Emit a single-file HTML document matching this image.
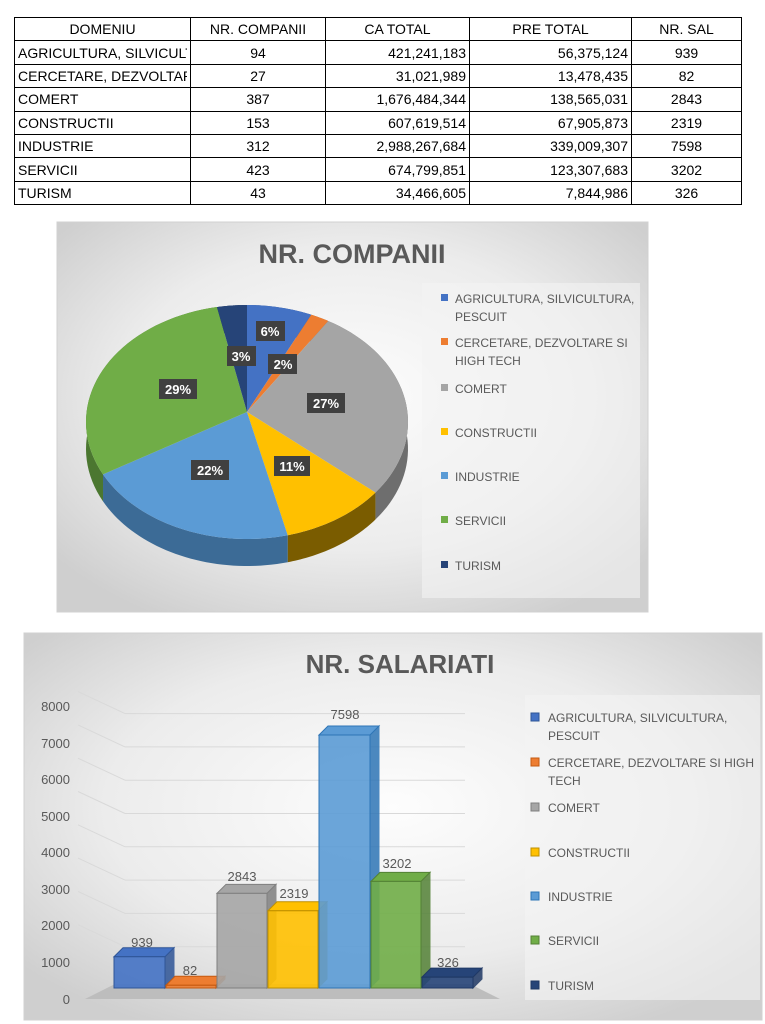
<!DOCTYPE html>
<html><head><meta charset="utf-8">
<style>
body{margin:0;width:765px;height:1024px;background:#fff;position:relative;overflow:hidden;font-family:"Liberation Sans",sans-serif}
table{position:absolute;left:14px;top:17px;border-collapse:collapse;font-size:14px;font-family:"Liberation Sans",sans-serif;color:#000}
td{border:1.5px solid #000;height:22.4px;padding:0 3px;white-space:nowrap;overflow:hidden}
.c{text-align:center}.r{text-align:right}
</style></head><body>
<table>
<colgroup><col style="width:175px"><col style="width:135px"><col style="width:144px"><col style="width:162px"><col style="width:110px"></colgroup>
<tr><td class="c">DOMENIU</td><td class="c">NR. COMPANII</td><td class="c">CA TOTAL</td><td class="c">PRE TOTAL</td><td class="c">NR. SAL</td></tr>
<tr><td><div style="width:169px;overflow:hidden">AGRICULTURA, SILVICULTURA</div></td><td class="c">94</td><td class="r">421,241,183</td><td class="r">56,375,124</td><td class="c">939</td></tr>
<tr><td><div style="width:169px;overflow:hidden">CERCETARE, DEZVOLTARE</div></td><td class="c">27</td><td class="r">31,021,989</td><td class="r">13,478,435</td><td class="c">82</td></tr>
<tr><td>COMERT</td><td class="c">387</td><td class="r">1,676,484,344</td><td class="r">138,565,031</td><td class="c">2843</td></tr>
<tr><td>CONSTRUCTII</td><td class="c">153</td><td class="r">607,619,514</td><td class="r">67,905,873</td><td class="c">2319</td></tr>
<tr><td>INDUSTRIE</td><td class="c">312</td><td class="r">2,988,267,684</td><td class="r">339,009,307</td><td class="c">7598</td></tr>
<tr><td>SERVICII</td><td class="c">423</td><td class="r">674,799,851</td><td class="r">123,307,683</td><td class="c">3202</td></tr>
<tr><td>TURISM</td><td class="c">43</td><td class="r">34,466,605</td><td class="r">7,844,986</td><td class="c">326</td></tr>
</table>

<svg width="765" height="1024" style="position:absolute;left:0;top:0" font-family="Liberation Sans, sans-serif">
<defs>
<radialGradient id="bg" cx="50%" cy="45%" r="65%"><stop offset="0" stop-color="#fdfdfd"/><stop offset="0.6" stop-color="#ececec"/><stop offset="1" stop-color="#cfcfcf"/></radialGradient>
</defs>
<rect x="57" y="222" width="591" height="390" fill="url(#bg)" stroke="#d0d0d0"/>
<text x="352" y="263" text-anchor="middle" font-size="27" font-weight="bold" fill="#595959">NR. COMPANII</text>
<rect x="422" y="283" width="218" height="315" fill="#f4f4f4" opacity="0.6"/>
<g id="pie"></g>
<g font-size="12" fill="#595959">
<rect x="441" y="294" width="7" height="7" fill="#4472C4"/><text x="455" y="303">AGRICULTURA, SILVICULTURA,</text><text x="455" y="321">PESCUIT</text>
<rect x="441" y="338" width="7" height="7" fill="#ED7D31"/><text x="455" y="347">CERCETARE, DEZVOLTARE SI</text><text x="455" y="365">HIGH TECH</text>
<rect x="441" y="384" width="7" height="7" fill="#A5A5A5"/><text x="455" y="393">COMERT</text>
<rect x="441" y="428" width="7" height="7" fill="#FFC000"/><text x="455" y="437">CONSTRUCTII</text>
<rect x="441" y="472" width="7" height="7" fill="#5B9BD5"/><text x="455" y="481">INDUSTRIE</text>
<rect x="441" y="516" width="7" height="7" fill="#70AD47"/><text x="455" y="525">SERVICII</text>
<rect x="441" y="561" width="7" height="7" fill="#264478"/><text x="455" y="570">TURISM</text>
</g>
<g font-size="13" font-weight="bold" fill="#fff" text-anchor="middle">
<rect x="256" y="321" width="29" height="20" fill="#404040"/><text x="270" y="336">6%</text>
<rect x="268" y="354" width="29" height="20" fill="#404040"/><text x="283" y="369">2%</text>
<rect x="307" y="393" width="38" height="20" fill="#404040"/><text x="326" y="408">27%</text>
<rect x="274" y="456" width="36" height="20" fill="#404040"/><text x="292" y="471">11%</text>
<rect x="191" y="460" width="38" height="20" fill="#404040"/><text x="210" y="475">22%</text>
<rect x="159" y="379" width="38" height="20" fill="#404040"/><text x="178" y="394">29%</text>
<rect x="227" y="346" width="29" height="20" fill="#404040"/><text x="241" y="361">3%</text>
</g>

<rect x="24" y="633" width="738" height="387" fill="url(#bg)" stroke="#d0d0d0"/>
<text x="400" y="673" text-anchor="middle" font-size="26" font-weight="bold" fill="#595959">NR. SALARIATI</text>
<g font-size="13" fill="#595959" text-anchor="end">
<text x="70" y="711">8000</text><text x="70" y="748">7000</text><text x="70" y="784">6000</text><text x="70" y="821">5000</text><text x="70" y="857">4000</text><text x="70" y="894">3000</text><text x="70" y="930">2000</text><text x="70" y="967">1000</text><text x="70" y="1004">0</text>
</g>
<g stroke="#d9d9d9" stroke-width="1" fill="none" id="grid"></g>
<polygon points="85,999 500,999 470,984 115,984" fill="#bdbdbd"/>
<g id="bars"></g>
<g font-size="13" fill="#595959" text-anchor="middle">
<text x="142" y="947">939</text><text x="190" y="975">82</text><text x="242" y="881">2843</text><text x="294" y="898">2319</text><text x="345" y="719">7598</text><text x="397" y="868">3202</text><text x="448" y="967">326</text>
</g>
<rect x="525" y="695" width="235" height="305" fill="#f4f4f4" opacity="0.6"/>
<g font-size="12" fill="#595959">
<rect x="531" y="713" width="8" height="8" fill="#4472C4" stroke="#2f5597"/><text x="548" y="722">AGRICULTURA, SILVICULTURA,</text><text x="548" y="740">PESCUIT</text>
<rect x="531" y="758" width="8" height="8" fill="#ED7D31" stroke="#c55a11"/><text x="548" y="767">CERCETARE, DEZVOLTARE SI HIGH</text><text x="548" y="785">TECH</text>
<rect x="531" y="803" width="8" height="8" fill="#A5A5A5" stroke="#7f7f7f"/><text x="548" y="812">COMERT</text>
<rect x="531" y="848" width="8" height="8" fill="#FFC000" stroke="#bf9000"/><text x="548" y="857">CONSTRUCTII</text>
<rect x="531" y="892" width="8" height="8" fill="#5B9BD5" stroke="#2e75b6"/><text x="548" y="901">INDUSTRIE</text>
<rect x="531" y="936" width="8" height="8" fill="#70AD47" stroke="#538135"/><text x="548" y="945">SERVICII</text>
<rect x="531" y="981" width="8" height="8" fill="#264478" stroke="#1f3864"/><text x="548" y="990">TURISM</text>
</g>
</svg>
<script>
(function(){
var NS="http://www.w3.org/2000/svg";
function el(p,t,a){var e=document.createElementNS(NS,t);for(var k in a)e.setAttribute(k,a[k]);p.appendChild(e);return e;}
var vals=[94,27,387,153,312,423,43],tot=1439;
var cols=["#4472C4","#ED7D31","#A5A5A5","#FFC000","#5B9BD5","#70AD47","#264478"];
var dark=["#2c4c85","#a4561f","#6e6e6e","#7a5c00","#3c6b96","#4b7730","#192d52"];
var cx=247,cy=422,rx=161,ry=117,ax=247,ay=412,D=27;
var g=document.getElementById("pie");
function pt(t){return [cx+rx*Math.sin(t),cy-ry*Math.cos(t)];}
var a=0,arcs=[];
for(var i=0;i<7;i++){var b=a+vals[i]/tot*2*Math.PI;arcs.push([a,b]);a=b;}
for(var i=0;i<7;i++){var s=arcs[i][0],e=arcs[i][1],pts=[],back=[];
 for(var k=0;k<=40;k++){var t=s+(e-s)*k/40,p=pt(t);pts.push(p[0]+","+p[1]);back.push(p[0]+","+(p[1]+D));}
 el(g,"polygon",{points:pts.concat(back.reverse()).join(" "),fill:dark[i]});}
for(var i=0;i<7;i++){var s=arcs[i][0],e=arcs[i][1],pts=[ax+","+ay];
 for(var k=0;k<=40;k++){var p=pt(s+(e-s)*k/40);pts.push(p[0]+","+p[1]);}
 el(g,"polygon",{points:pts.join(" "),fill:cols[i]});}
var gr=document.getElementById("grid");
for(var v=1;v<=8;v++){var y=988-v*33.3-8;el(gr,"line",{x1:125,y1:y,x2:465,y2:y});el(gr,"line",{x1:78,y1:y-22,x2:125,y2:y});}
var sal=[939,82,2843,2319,7598,3202,326];
var bc=["#4472C4","#ED7D31","#A5A5A5","#FFC000","#5B9BD5","#70AD47","#264478"];
var bs=["#2f5597","#c55a11","#7f7f7f","#bf9000","#2e75b6","#538135","#1f3864"];
var bg=document.getElementById("bars"),xs=[114,166,217,268,319,371,422,474],d=9;
for(var i=0;i<7;i++){var x0=xs[i],x1=xs[i+1]-1,top=988-sal[i]*0.0333,bot=988;
 el(bg,"polygon",{points:x1+","+bot+" "+(x1+d)+","+(bot-d)+" "+(x1+d)+","+(top-d)+" "+x1+","+top,fill:bs[i],stroke:bs[i],"stroke-width":1,opacity:0.85});
 el(bg,"polygon",{points:x0+","+top+" "+(x0+d)+","+(top-d)+" "+(x1+d)+","+(top-d)+" "+x1+","+top,fill:bc[i],stroke:bs[i],"stroke-width":1});
 el(bg,"rect",{x:x0,y:top,width:x1-x0,height:bot-top,fill:bc[i],stroke:bs[i],"stroke-width":1,"fill-opacity":0.9});}
})();
</script>
</body></html>
